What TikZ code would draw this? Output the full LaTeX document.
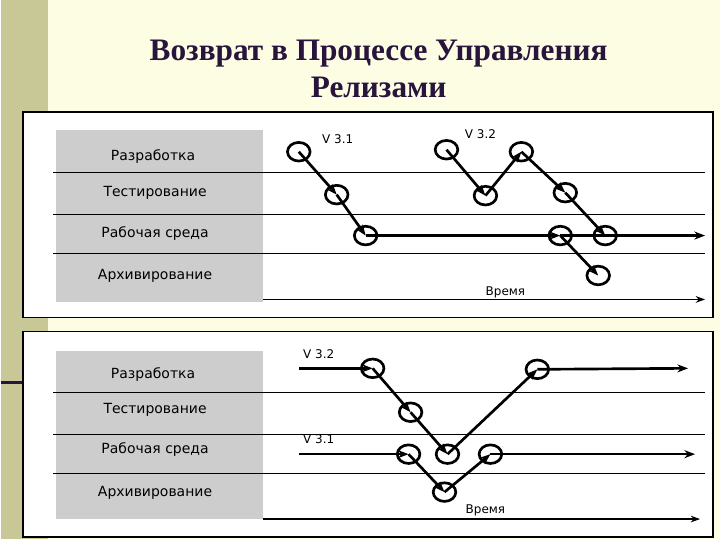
\documentclass[tikz,border=0pt]{standalone}
\usepackage{fontspec}
\setmainfont{Liberation Serif}
\newfontfamily\lab{DejaVu Sans}
\usetikzlibrary{shapes.geometric,arrows.meta}
\definecolor{cream}{RGB}{253,253,228}
\definecolor{olive}{RGB}{200,200,150}
\definecolor{ttl}{RGB}{40,20,60}
\definecolor{grayb}{RGB}{205,205,205}
\tikzset{
 circ/.style={ellipse,draw,line width=2pt,minimum width=17pt,minimum height=14pt,inner sep=0pt},
 flow/.style={line width=2pt,-{Stealth[length=8pt,width=6pt]}},
 lane/.style={line width=0.9pt},
 lbl/.style={font=\lab\fontsize{10.5}{12}\selectfont},
 ver/.style={font=\lab\fontsize{9}{10}\selectfont},
 panel/.style={draw,fill=white,line width=1.2pt}
}
\begin{document}
\begin{tikzpicture}[x=0.75pt,y=-0.75pt]
\fill[cream] (0,0) rectangle (720,540);
\fill[olive] (0,0) rectangle (47,540);
\draw[ttl,line width=2pt] (0,383) -- (22,383);
\node[font=\bfseries\fontsize{23.5}{28}\selectfont,text=ttl,align=center] (title) at (378,69) {Возврат в Процессе Управления\\Релизами};
% top panel
\draw[panel] (22,112) rectangle (713,318);
\fill[grayb] (55,130) rectangle (262,303);
\foreach \yy in {173,215,254} \draw[lane] (52,\yy) -- (705,\yy);
\node[lbl] (t1) at (152,157) {Разработка};
\node[lbl] (t2) at (154,193) {Тестирование};
\node[lbl] (t3) at (154,234) {Рабочая среда};
\node[lbl] (t4) at (154,276) {Архивирование};
\node[ver] (tv1) at (337,139) {V 3.1};
\node[ver] (tv2) at (480,134) {V 3.2};
\node[ver] (tvr) at (505,293) {Время};
\coordinate (tts) at (262,300); \coordinate (tte) at (705,300);
\draw[lane,-{Stealth[length=7pt,width=5pt]}] (tts) -- (tte);
\node[circ] (a1) at (298,152) {};
\node[circ] (a2) at (336,195) {};
\node[circ] (a3) at (365,236) {};
\node[circ] (b1) at (446,150) {};
\node[circ] (b2) at (485,196) {};
\node[circ] (b3) at (521,152) {};
\node[circ] (b4) at (565,193) {};
\node[circ] (b5) at (605,236) {};
\node[circ] (c1) at (560,236) {};
\node[circ] (c2) at (598,276) {};
\coordinate (tend) at (705,236);
\draw[flow] (a1.center) -- (a2.center);
\draw[flow] (a2.center) -- (a3.center);
\draw[flow] (a3.center) -- (c1.center);
\draw[flow] (c1.center) -- (tend);
\draw[flow] (b1.center) -- (b2.center);
\draw[flow] (b2.center) -- (b3.center);
\draw[flow] (b3.center) -- (b4.center);
\draw[flow] (b4.center) -- (b5.center);
\draw[flow] (c1.center) -- (c2.center);
% bottom panel
\draw[panel] (22,332) rectangle (713,538);
\fill[grayb] (55,352) rectangle (262,520);
\foreach \yy in {393,435,474} \draw[lane] (52,\yy) -- (705,\yy);
\node[lbl] (u1) at (152,375) {Разработка};
\node[lbl] (u2) at (154,411) {Тестирование};
\node[lbl] (u3) at (154,450) {Рабочая среда};
\node[lbl] (u4) at (154,494) {Архивирование};
\node[ver] (uv2) at (318,355) {V 3.2};
\node[ver] (uv1) at (318,440) {V 3.1};
\node[ver] (uvr) at (485,511) {Время};
\coordinate (uts) at (262,520); \coordinate (ute) at (700,520);
\draw[lane,-{Stealth[length=7pt,width=5pt]}] (uts) -- (ute);
\node[circ] (d1) at (372,369) {};
\node[circ] (d2) at (410,413) {};
\node[circ] (d3) at (447,455) {};
\node[circ] (d4) at (537,370) {};
\node[circ] (e1) at (408,455) {};
\node[circ] (e2) at (444,493) {};
\node[circ] (e3) at (490,455) {};
\coordinate (ds) at (298,369); \coordinate (de) at (688,369);
\coordinate (es) at (298,455); \coordinate (ee) at (695,455);
\draw[flow] (ds) -- (d1.center);
\draw[flow] (d1.center) -- (d2.center);
\draw[flow] (d2.center) -- (d3.center);
\draw[flow] (d3.center) -- (d4.center);
\draw[flow] (d4.center) -- (de);
\draw[flow] (es) -- (e1.center);
\draw[flow] (e1.center) -- (e2.center);
\draw[flow] (e2.center) -- (e3.center);
\draw[flow] (e3.center) -- (ee);
\end{tikzpicture}
\end{document}
